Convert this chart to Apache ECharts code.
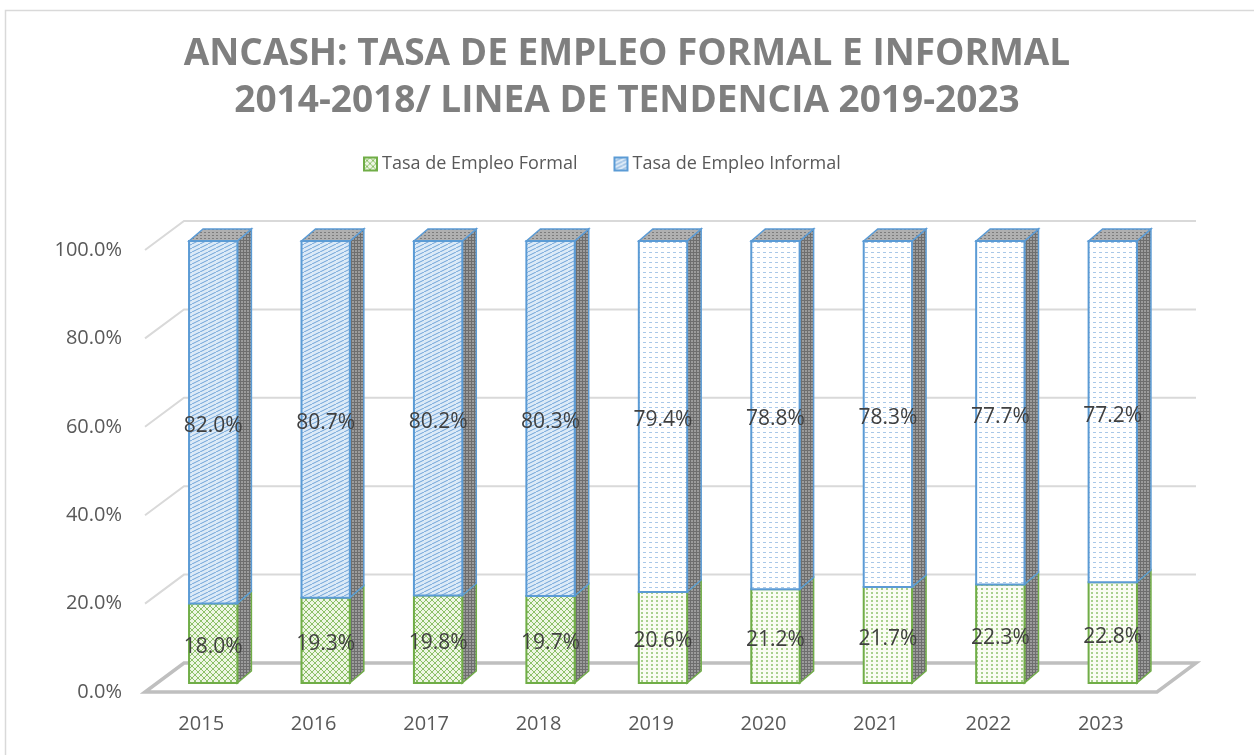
<!DOCTYPE html>
<html>
<head>
<meta charset="utf-8">
<script src="https://cdn.jsdelivr.net/npm/echarts@6/dist/echarts.min.js"></script>
<style>
  html, body { margin: 0; padding: 0; background: #fff; }
  #chart { width: 1254px; height: 755px; }
</style>
</head>
<body>
<div id="chart"></div>
<script>
// datos
var anios = ['2015', '2016', '2017', '2018', '2019', '2020', '2021', '2022', '2023'];
var tasaFormal = [18.0, 19.3, 19.8, 19.7, 20.6, 21.2, 21.7, 22.3, 22.8];
var tasaInformal = [82.0, 80.7, 80.2, 80.3, 79.4, 78.8, 78.3, 77.7, 77.2];
// 'real' = 2015-2018, 'tend' = linea de tendencia
var tipo = ['real', 'real', 'real', 'real', 'tend', 'tend', 'tend', 'tend', 'tend'];
var yTicks = [0, 20, 40, 60, 80, 100];

// profundidad del piso/pared y de la barra (px)
var DEPTH = [39, -29];
var BAR_FRONT = [12, -9];
var BAR_DEPTH = [14, -12];

function makePattern (w, h, bg, draw) {
  var c = document.createElement('canvas');
  c.width = w; c.height = h;
  var ctx = c.getContext('2d');
  ctx.fillStyle = bg;
  ctx.fillRect(0, 0, w, h);
  draw(ctx);
  return { image: c, repeat: 'repeat' };
}

var patFormalReal = makePattern(6, 6, '#eef6e4', function (ctx) {
  ctx.strokeStyle = '#8cc068'; ctx.lineWidth = 1;
  ctx.beginPath();
  ctx.moveTo(0, 0); ctx.lineTo(6, 6);
  ctx.moveTo(6, 0); ctx.lineTo(0, 6);
  ctx.stroke();
});
var patFormalTend = makePattern(5, 4, '#fafcf3', function (ctx) {
  ctx.fillStyle = '#a9d18e';
  ctx.fillRect(1, 0, 2, 2);
});
var patInformalReal = makePattern(8, 4, '#dceaf7', function (ctx) {
  ctx.strokeStyle = '#6fa3d8'; ctx.lineWidth = 1;
  ctx.beginPath();
  ctx.moveTo(0, 4); ctx.lineTo(8, 0);
  ctx.stroke();
});
var patInformalTend = makePattern(6, 5, '#ffffff', function (ctx) {
  ctx.fillStyle = '#a9c8e8';
  ctx.fillRect(1, 2, 3, 1);
});
var patSide = makePattern(3, 3, '#9c9c9c', function (ctx) {
  ctx.fillStyle = '#6e6e6e';
  ctx.fillRect(0, 0, 1, 3);
  ctx.fillRect(0, 0, 3, 1);
});
var patTop = makePattern(4, 3, '#b0b0b0', function (ctx) {
  ctx.fillStyle = '#7d7d7d';
  ctx.fillRect(0, 1, 2, 1);
});

var myChart = echarts.init(document.getElementById('chart'));

function renderWalls (params, api) {
  var v = api.value(1);
  var cs = params.coordSys;
  var left = cs.x, right = cs.x + cs.width;
  var y = api.coord([0, v])[1];
  var children = [];
  if (v === 0) {
    children.push({
      type: 'polygon',
      shape: { points: [[left, y], [right, y], [right + DEPTH[0], y + DEPTH[1]], [left + DEPTH[0], y + DEPTH[1]]] },
      style: { stroke: '#bfbfbf', lineWidth: 3.5, fill: null }
    });
  } else {
    children.push({
      type: 'polyline',
      shape: { points: [[left, y], [left + DEPTH[0], y + DEPTH[1]], [right + DEPTH[0], y + DEPTH[1]]] },
      style: { stroke: '#d9d9d9', lineWidth: 2, fill: null }
    });
  }
  return { type: 'group', children: children };
}

function makeBarRenderer (esFormal) {
  return function (params, api) {
    var i = api.value(0);
    var base = api.value(1), tope = api.value(2), val = api.value(3);
    var w = api.size([1, 0])[0] * 0.43;
    var pb = api.coord([i, base]);
    var pt = api.coord([i, tope]);
    var x0 = pb[0] - w / 2 + BAR_FRONT[0], x1 = x0 + w;
    var yb = pb[1] + BAR_FRONT[1], yt = pt[1] + BAR_FRONT[1];
    var dx = BAR_DEPTH[0], dy = BAR_DEPTH[1];
    var real = tipo[i] === 'real';
    var edge = esFormal ? '#70ad47' : '#5b9bd5';
    var fill = esFormal ? (real ? patFormalReal : patFormalTend) : (real ? patInformalReal : patInformalTend);
    var children = [
      {
        type: 'polygon',
        shape: { points: [[x1, yb], [x1 + dx, yb + dy], [x1 + dx, yt + dy], [x1, yt]] },
        style: { fill: patSide, stroke: edge, lineWidth: 1.5 }
      }
    ];
    if (!esFormal) {
      children.push({
        type: 'polygon',
        shape: { points: [[x0, yt], [x1, yt], [x1 + dx, yt + dy], [x0 + dx, yt + dy]] },
        style: { fill: patTop, stroke: edge, lineWidth: 1.5 }
      });
    }
    children.push({
      type: 'rect',
      shape: { x: x0, y: yt, width: w, height: yb - yt },
      style: { fill: fill, stroke: edge, lineWidth: 2 }
    });
    children.push({
      type: 'text',
      style: {
        text: val.toFixed(1) + '%',
        x: (x0 + x1) / 2,
        y: (yb + yt) / 2 + 4,
        align: 'center',
        verticalAlign: 'middle',
        fill: '#404040',
        font: '21px "Open Sans"'
      }
    });
    return { type: 'group', children: children };
  };
}

var datosFormal = [], datosInformal = [], datosMuros = [];
anios.forEach(function (a, i) {
  datosFormal.push([i, 0, tasaFormal[i], tasaFormal[i]]);
  datosInformal.push([i, tasaFormal[i], tasaFormal[i] + tasaInformal[i], tasaInformal[i]]);
});
yTicks.forEach(function (v) { datosMuros.push([0, v]); });

var option = {
  animation: false,
  textStyle: { fontFamily: '"Open Sans", sans-serif' },
  title: {
    text: 'ANCASH: TASA DE EMPLEO FORMAL E INFORMAL\n2014-2018/ LINEA DE TENDENCIA 2019-2023',
    left: 'center',
    top: 26,
    textStyle: {
      fontSize: 37,
      fontWeight: 'bold',
      color: '#7f7f7f',
      lineHeight: 47,
      fontFamily: '"Open Sans", sans-serif'
    }
  },
  legend: {
    top: 150,
    left: 358,
    itemWidth: 13,
    itemHeight: 13,
    itemGap: 36,
    icon: 'rect',
    textStyle: { fontSize: 18, color: '#595959' },
    data: ['Tasa de Empleo Formal', 'Tasa de Empleo Informal']
  },
  grid: {
    left: 145,
    right: 97,
    top: 250,
    bottom: 63
  },
  xAxis: {
    type: 'category',
    data: anios,
    axisLine: { show: false },
    axisTick: { show: false },
    axisLabel: { fontSize: 20, color: '#595959', margin: 22 }
  },
  yAxis: {
    type: 'value',
    min: 0,
    max: 100,
    interval: 20,
    splitLine: { show: false },
    axisLine: { show: false },
    axisTick: { show: false },
    axisLabel: {
      fontSize: 20,
      color: '#595959',
      margin: 23,
      padding: [10, 0, 0, 0],
      formatter: function (v) { return v.toFixed(1) + '%'; }
    }
  },
  series: [
    {
      type: 'custom',
      name: 'muros',
      renderItem: renderWalls,
      data: datosMuros,
      encode: { x: 0, y: 1 },
      clip: false,
      silent: true,
      z: 1
    },
    {
      type: 'custom',
      name: 'Tasa de Empleo Formal',
      renderItem: makeBarRenderer(true),
      data: datosFormal,
      encode: { x: 0, y: [1, 2] },
      itemStyle: { color: patFormalReal, borderColor: '#70ad47', borderWidth: 1 },
      clip: false,
      z: 2
    },
    {
      type: 'custom',
      name: 'Tasa de Empleo Informal',
      renderItem: makeBarRenderer(false),
      data: datosInformal,
      encode: { x: 0, y: [1, 2] },
      itemStyle: { color: patInformalReal, borderColor: '#5b9bd5', borderWidth: 1 },
      clip: false,
      z: 3
    }
  ],
  graphic: [
    {
      type: 'rect',
      left: 3,
      top: 8,
      shape: { width: 1300, height: 800 },
      style: { fill: null, stroke: '#d9d9d9', lineWidth: 1.5 },
      silent: true,
      z: 0
    }
  ]
};

myChart.setOption(option);
</script>
</body>
</html>
